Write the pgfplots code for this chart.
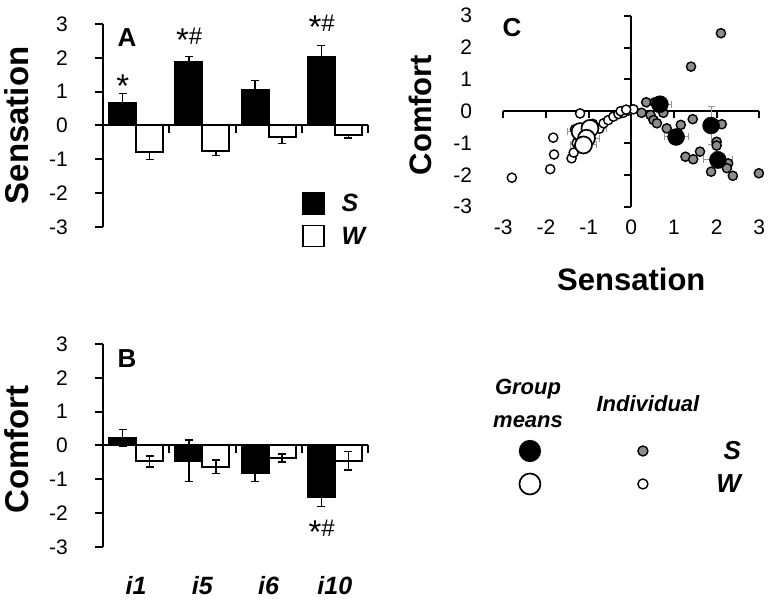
\documentclass[border=0pt]{standalone}
\usepackage{fontspec}
\setmainfont{Liberation Sans}
\usepackage{pgfplots}
\pgfplotsset{compat=1.18}
\definecolor{indiv}{RGB}{140,140,140}
\definecolor{ebar}{RGB}{150,150,150}

\newcommand{\astk}{\raisebox{-7pt}{\fontsize{33}{33}\selectfont *}}
\tikzset{
  star/.style={font=\fontsize{24}{24}\selectfont, inner sep=0pt, anchor=north},
  panel/.style={font=\bfseries\fontsize{26}{26}\selectfont, inner sep=0pt, anchor=center},
}
\pgfplotsset{
  sqlegend/.style={legend image code/.code={\draw[##1, line width=1.5pt] (0pt,-10.5pt) rectangle (21pt,10.5pt);}},
  barpanel/.style={
    scale only axis, width=265pt, height=203pt,
    xmin=-0.5, xmax=3.5, ymin=-3, ymax=3,
    axis y line=left, axis x line=middle,
    axis line style={-, line width=2pt},
    ytick={-3,...,3},
    xtick={0.5,1.5,2.5,3.5}, xticklabels={},
    major tick length=8pt, tick align=outside,
    tick style={black, line width=2pt},
    tick label style={font=\fontsize{21}{21}\selectfont, inner sep=0pt},
    /pgf/number format/assume math mode=true,
    yticklabel style={xshift=-27pt},
    ylabel style={font=\bfseries\fontsize{33}{33}\selectfont, at={(axis description cs:-0.325,0.5)}, anchor=center},
    clip=false,
  },
  sbar/.style={ybar, bar width=27pt, bar shift=0pt, fill=black, draw=black, line width=2pt, sqlegend,
    /pgfplots/error bars/y explicit,
    /pgfplots/error bars/error bar style={black, line width=1.6pt},
    /pgfplots/error bars/error mark options={rotate=90, black, mark size=4pt, line width=1.6pt}},
  wbar/.style={ybar, bar width=27pt, bar shift=0pt, fill=white, draw=black, line width=2pt, sqlegend,
    /pgfplots/error bars/y explicit,
    /pgfplots/error bars/error bar style={black, line width=1.6pt},
    /pgfplots/error bars/error mark options={rotate=90, black, mark size=4pt, line width=1.6pt}},
  meanerr/.style={
    /pgfplots/error bars/x dir=both, /pgfplots/error bars/x explicit,
    /pgfplots/error bars/y dir=both, /pgfplots/error bars/y explicit,
    /pgfplots/error bars/error bar style={ebar, line width=1pt},
    /pgfplots/error bars/error mark options={rotate=90, ebar, mark size=3.5pt, line width=1pt}},
}

\begin{document}
\begin{tikzpicture}
\path[use as bounding box] (0pt,0pt) rectangle (771pt,602pt);

% ---- A: sensation (S bars at i-0.204, W bars at i+0.204)
\begin{axis}[barpanel, at={(103pt,375pt)}, anchor=south west,
  ylabel={Sensation},
  legend style={draw=none, fill=none, at={(axis description cs:0.751,0.17)}, anchor=north west,
    inner sep=0pt, outer sep=0pt, row sep=10pt, cells={anchor=west},
    font=\bfseries\itshape\fontsize{25}{25}\selectfont, nodes={inner sep=0pt},
    /tikz/every odd column/.append style={column sep=17pt}},
]
\addplot[sbar, /pgfplots/error bars/y dir=plus] coordinates {
  (-0.204,0.67) +- (0,0.28)
  (0.796,1.87) +- (0,0.17)
  (1.796,1.05) +- (0,0.28)
  (2.796,2.03) +- (0,0.33)
};
\addlegendentry{S}
\addplot[wbar, /pgfplots/error bars/y dir=minus] coordinates {
  (0.204,-0.78) +- (0,0.22)
  (1.204,-0.75) +- (0,0.14)
  (2.204,-0.33) +- (0,0.20)
  (3.204,-0.27) +- (0,0.10)
};
\addlegendentry{W}
\node[panel] at (axis description cs:0.091,0.933) {A};
\node[star] at (axis cs:-0.2,1.49) {\astk};
\node[star] at (axis cs:0.8,2.88) {\astk\#};
\node[star] at (axis cs:2.8,3.27) {\astk\#};
\end{axis}

% ---- B: comfort
\begin{axis}[barpanel, at={(103pt,55pt)}, anchor=south west,
  ylabel={Comfort},
  ylabel style={at={(axis description cs:-0.325,0.48)}},
  extra x ticks={0,1,2,3},
  extra x tick labels={\textit{i1},\textit{i5},\textit{i6},\textit{i10}},
  extra x tick style={major tick length=0pt,
    xticklabel style={font=\bfseries\fontsize{25}{25}\selectfont, anchor=north, yshift=-131pt}},
]
\addplot[sbar, /pgfplots/error bars/y dir=both] coordinates {
  (-0.204,0.22) +- (0,0.25)
  (0.796,-0.45) +- (0,0.61)
  (1.796,-0.81) +- (0,0.25)
  (2.796,-1.53) +- (0,0.27)
};
\addplot[wbar, /pgfplots/error bars/y dir=both] coordinates {
  (0.204,-0.47) +- (0,0.16)
  (1.204,-0.63) +- (0,0.20)
  (2.204,-0.37) +- (0,0.12)
  (3.204,-0.45) +- (0,0.27)
};
\node[panel] at (axis description cs:0.091,0.926) {B};
\node[star] at (axis cs:2.8,-2.19) {\astk\#};
\end{axis}

% ---- C: crossing axis lines
\begin{axis}[at={(503.3pt,395.3pt)}, anchor=south west, scale only axis,
  width=256pt, height=191pt,
  xmin=-3, xmax=3, ymin=-3, ymax=3,
  axis lines=middle, axis line style={-, line width=2pt},
  xtick={-3,...,3}, ytick={-3,...,3}, xticklabels={}, yticklabels={},
  major tick length=7pt, tick align=outside, tick style={black, line width=2pt},
]
\end{axis}

% ---- C: labels and data
\begin{axis}[at={(503.3pt,395.3pt)}, anchor=south west, scale only axis,
  width=256pt, height=191pt,
  xmin=-3, xmax=3, ymin=-3, ymax=3,
  axis x line=bottom, axis y line=left,
  axis line style={draw=none}, tick style={draw=none}, major tick length=0pt,
  xtick={-3,...,3}, ytick={-3,...,3},
  tick label style={font=\fontsize{21}{21}\selectfont, inner sep=0pt},
  /pgf/number format/assume math mode=true,
  xticklabel style={anchor=north, yshift=-13pt},
  yticklabel style={anchor=east, xshift=-31pt},
  xlabel={Sensation}, ylabel={Comfort},
  label style={font=\bfseries\fontsize{31}{31}\selectfont},
  xlabel style={at={(axis description cs:0.5,-0.379)}, anchor=center},
  ylabel style={at={(axis description cs:-0.325,0.48)}, anchor=center},
  clip=false,
  legend columns=2,
  legend image code/.code={\draw[#1] plot coordinates {(0pt,0pt)};},
  legend style={draw=none, fill=none, at={(axis description cs:0.063,-1.224)}, anchor=north west,
    inner sep=0pt, outer sep=0pt, row sep=12pt, column sep=0pt, cells={anchor=west},
    nodes={inner sep=0pt}, font=\bfseries\itshape\fontsize{26}{26}\selectfont},
]
% W individuals
\addplot[only marks, mark=*, mark size=4.6pt, mark options={fill=white, draw=black, line width=1.4pt}, forget plot] coordinates {
  (-2.80,-2.09) (-1.83,-0.83) (-1.81,-1.36) (-1.90,-1.82) (-1.20,-0.07)
  (-1.40,-1.48) (-1.35,-1.30) (-1.28,-1.00) (-1.32,-0.57) (-1.20,-0.75)
  (-0.90,-0.40) (-0.75,-0.55) (-0.65,-0.38) (-0.54,-0.28) (-0.42,-0.17)
  (-0.30,-0.09) (-0.19,-0.05) (-0.07,0.02) (0.05,0.06) (-0.25,0.00) (-0.12,0.05)
};
% S individuals
\addplot[only marks, mark=*, mark size=4.6pt, mark options={fill=indiv, draw=black, line width=1.4pt}, forget plot] coordinates {
  (2.10,2.45) (1.40,1.40) (0.35,0.28) (0.55,0.28) (0.24,-0.05)
  (0.45,-0.12) (0.52,-0.28) (0.60,-0.38) (0.83,-0.54) (1.16,-0.43)
  (1.44,-0.25) (2.12,-0.41) (2.00,-0.96) (2.00,-1.08) (1.61,-1.27)
  (1.27,-1.43) (1.45,-1.51) (2.27,-1.64) (2.24,-1.79) (1.87,-1.90)
  (2.38,-2.03) (2.99,-1.95) (0.75,-0.05)
};
% W group means
\addplot[only marks, mark=*, mark size=8.5pt, mark options={fill=white, draw=black, line width=1.7pt}, forget plot, meanerr] coordinates {
  (-1.20,-0.64) +- (0.30,0.15)
  (-0.97,-0.54) +- (0.40,0.12)
  (-1.05,-0.85) +- (0.30,0.15)
  (-1.12,-1.06) +- (0.30,0.15)
};
% S group means
\addplot[only marks, mark=*, mark size=8.5pt, mark options={fill=black, draw=black}, forget plot, meanerr] coordinates {
  (0.67,0.22) +- (0.28,0.25)
  (1.87,-0.45) +- (0.17,0.61)
  (1.05,-0.81) +- (0.28,0.25)
  (2.03,-1.53) +- (0.33,0.27)
};
\addlegendimage{mark=*, mark size=10.5pt, mark options={fill=black, draw=black, line width=1.2pt}}
\addlegendentry{\makebox[97.5pt]{}}
\addlegendimage{mark=*, mark size=5pt, mark options={fill=indiv, draw=black, line width=1.4pt}}
\addlegendentry{\makebox[93pt][r]{S}}
\addlegendimage{mark=*, mark size=10.5pt, mark options={fill=white, draw=black, line width=1.7pt}}
\addlegendentry{\makebox[97.5pt]{}}
\addlegendimage{mark=*, mark size=5pt, mark options={fill=white, draw=black, line width=1.4pt}}
\addlegendentry{\makebox[93pt][r]{W}}
\node[panel] at (axis description cs:0.034,0.938) {C};
\node[font=\bfseries\itshape\fontsize{22}{33}\selectfont, align=center, inner sep=0pt] at (axis cs:-2.42,-9.18) {Group\\means};
\node[font=\bfseries\itshape\fontsize{22}{22}\selectfont, inner sep=0pt] at (axis cs:0.39,-9.20) {Individual};
\end{axis}
\end{tikzpicture}
\end{document}
